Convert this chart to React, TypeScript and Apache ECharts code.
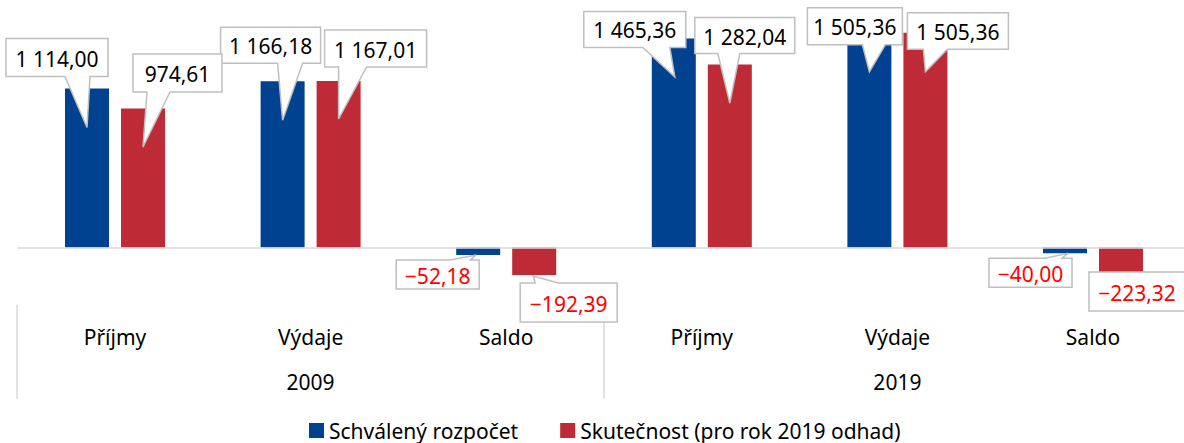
import React, { useEffect, useRef } from "react";
import * as echarts from "echarts";

const categories = ["Příjmy", "Výdaje", "Saldo", "Příjmy", "Výdaje", "Saldo"];
const years = ["2009", "2019"];
const seriesNames = ["Schválený rozpočet", "Skutečnost (pro rok 2019 odhad)"];
const approved = [1114.0, 1166.18, -52.18, 1465.36, 1505.36, -40.0];
const actual = [974.61, 1167.01, -192.39, 1282.04, 1505.36, -223.32];

// callout layout relative to bar end: box [left,right,top,bottom], tip [dx,dy], base [left,right]
const approvedCallouts = [
  { box: [-81, 21, -50, -12], tip: [0, 39], base: [-22, 3] },
  { box: [-62, 38, -54, -18], tip: [0, 39], base: [-5, 20] },
  { box: [-82, 1, 5, 34], tip: [-2, 0], base: [-28, -8] },
  { box: [-90, 12, -27, 9], tip: [1, 38.5], base: [-31, -4] },
  { box: [-62, 33, -25, 12], tip: [0, 39], base: [-7, 16] },
  { box: [-76, 7, 5, 34], tip: [3, 0], base: [-20, -3] },
];
const actualCallouts = [
  { box: [-10, 79, -54.5, -16.5], tip: [0, 38.5], base: [4, 27] },
  { box: [-14, 88, -51, -14], tip: [0, 38], base: [0, 28] },
  { box: [-14, 83, 8, 47], tip: [-1, 1], base: [1, 24] },
  { box: [-35, 65, -47, -11], tip: [0, 38.5], base: [-12, 10] },
  { box: [-18, 83, -20, 16.6], tip: [0, 39], base: [-2, 22] },
  { box: [-32, 64, -7.4, 31.6], tip: null, base: null },
];

const BLUE = "#00428F";
const RED = "#BE2A36";
const FONT = "Noto Sans";
const BAR_OFFSET = 28;

function fmt(v: number): string {
  const neg = v < 0;
  const s = Math.abs(v).toFixed(2);
  const [i, d] = s.split(".");
  const ip = i.replace(/\B(?=(\d{3})+(?!\d))/g, " ");
  return (neg ? "\u2212" : "") + ip + "," + d;
}

function makeRender(layouts: any[], side: number) {
  return (params: any, api: any) => {
    const cat = api.value(0);
    const val = api.value(1);
    const p = api.coord([cat, val]);
    const ax = p[0] + side * BAR_OFFSET;
    const ay = p[1];
    const L = layouts[params.dataIndex];
    const x0 = ax + L.box[0];
    const x1 = ax + L.box[1];
    const y0 = ay + L.box[2];
    const y1 = ay + L.box[3];
    let points: number[][];
    if (!L.tip) {
      points = [[x0, y0], [x1, y0], [x1, y1], [x0, y1]];
    } else {
      const tx = ax + L.tip[0];
      const ty = ay + L.tip[1];
      const bl = ax + L.base[0];
      const br = ax + L.base[1];
      if (ty > y1) {
        points = [[x0, y0], [x1, y0], [x1, y1], [br, y1], [tx, ty], [bl, y1], [x0, y1]];
      } else {
        points = [[x0, y0], [bl, y0], [tx, ty], [br, y0], [x1, y0], [x1, y1], [x0, y1]];
      }
    }
    return {
      type: "group",
      children: [
        {
          type: "polygon",
          shape: { points },
          style: { fill: "#ffffff", stroke: "#bfbfbf", lineWidth: 1.5 },
        },
        {
          type: "text",
          x: (x0 + x1) / 2,
          y: (y0 + y1) / 2 + 1,
          style: {
            text: fmt(val),
            fill: val < 0 ? "#ff0000" : "#000000",
            fontSize: 21,
            fontFamily: FONT,
            align: "center",
            verticalAlign: "middle",
          },
        },
      ],
    };
  };
}

export default function App() {
  const ref = useRef<HTMLDivElement>(null);
  useEffect(() => {
    if (!ref.current) return;
    const chart = echarts.init(ref.current, null, { renderer: "svg" });
    chart.setOption({
      animation: false,
      backgroundColor: "#ffffff",
      textStyle: { fontFamily: FONT },
      grid: { left: 17.2, right: 9.2, top: 19.2, height: 285.5 },
      legend: {
        data: seriesNames,
        left: 304,
        top: 415,
        icon: "rect",
        itemWidth: 15,
        itemHeight: 15,
        itemGap: 42,
        textStyle: { fontSize: 21, color: "#000000", fontFamily: FONT },
      },
      xAxis: [
        {
          type: "category",
          data: categories,
          position: "bottom",
          axisLine: { show: false, onZero: false },
          axisTick: { show: false },
          axisLabel: { margin: 22, fontSize: 21, color: "#000000", fontFamily: FONT },
        },
        {
          type: "category",
          data: years,
          position: "bottom",
          axisLine: { show: false, onZero: false },
          axisTick: { show: true, length: 94, lineStyle: { color: "#d9d9d9", width: 1.5 } },
          axisLabel: { margin: 67, fontSize: 21, color: "#000000", fontFamily: FONT },
        },
      ],
      yAxis: {
        type: "value",
        min: -400,
        max: 1600,
        show: false,
        splitLine: { show: false },
      },
      series: [
        {
          name: seriesNames[0],
          type: "bar",
          data: approved,
          barWidth: 44,
          barGap: "27.3%",
          itemStyle: { color: BLUE },
          markLine: {
            silent: true,
            symbol: ["none", "none"],
            label: { show: false },
            lineStyle: { color: "#d9d9d9", width: 1.5, type: "solid" },
            data: [{ yAxis: 0 }],
          },
        },
        {
          name: seriesNames[1],
          type: "bar",
          data: actual,
          barWidth: 44,
          barGap: "27.3%",
          itemStyle: { color: RED },
        },
        {
          type: "custom",
          silent: true,
          z: 5,
          renderItem: makeRender(approvedCallouts, -1),
          data: approved.map((v, i) => [i, v]),
        },
        {
          type: "custom",
          silent: true,
          z: 6,
          renderItem: makeRender(actualCallouts, 1),
          data: actual.map((v, i) => [i, v]),
        },
      ],
    });
    return () => chart.dispose();
  }, []);
  return (
    <div
      style={{
        position: "absolute",
        left: 0,
        top: 0,
        width: 1184,
        height: 443,
        overflow: "hidden",
        background: "#ffffff",
      }}
    >
      <div ref={ref} style={{ width: 1200, height: 443 }} />
    </div>
  );
}
